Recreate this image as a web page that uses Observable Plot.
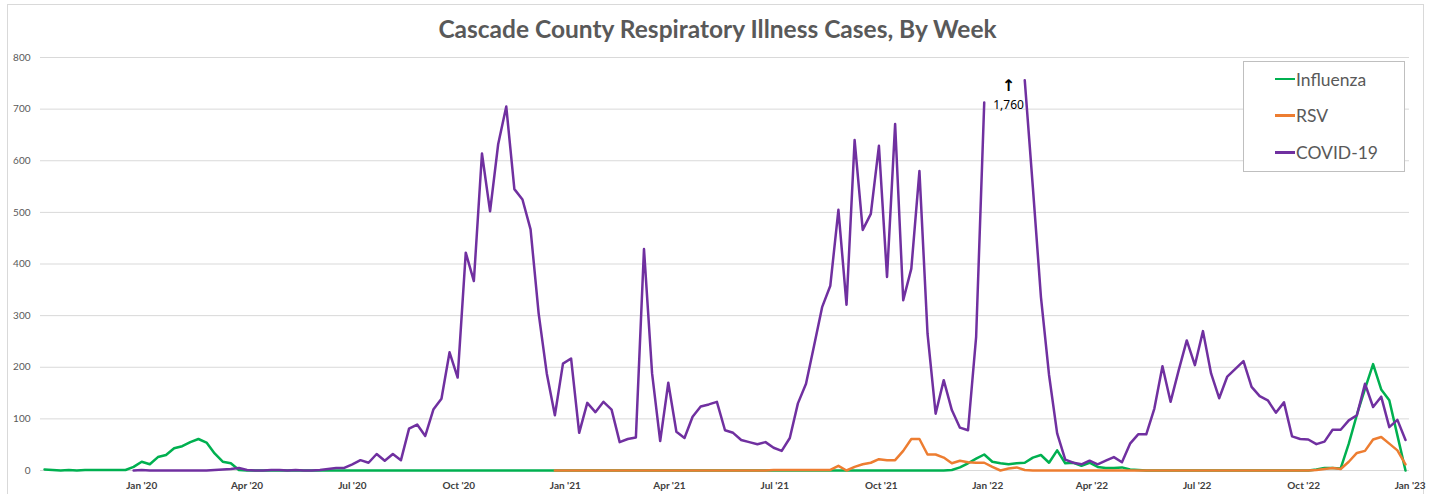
<!DOCTYPE html>
<html>
<head>
<meta charset="utf-8">
<script src="https://cdn.jsdelivr.net/npm/d3@7"></script>
<script src="https://cdn.jsdelivr.net/npm/@observablehq/plot@0.6"></script>
<style>
  html, body { margin: 0; padding: 0; background: #fff; }
  #wrap { position: relative; width: 1435px; height: 494px; overflow: hidden; font-family: Lato, "Open Sans", sans-serif; }
  #border { position: absolute; left: 7px; top: 4px; width: 1417px; height: 520px; border: 1px solid #d9d9d9; box-sizing: border-box; }
  #title { position: absolute; left: 0; top: 13px; width: 1435px; text-align: center; font-size: 24.5px; font-weight: bold; color: #595959; line-height: 32px; }
  #chart { position: absolute; left: 0; top: 0; }
  #legend { position: absolute; left: 1243px; top: 61px; width: 162px; height: 111px; border: 1px solid #bfbfbf; box-sizing: border-box; background: #fff; }
  .item { position: absolute; left: 31px; height: 20px; display: flex; align-items: center; font-size: 17.5px; color: #595959; }
  .sw { width: 20px; height: 2.5px; margin-right: 1px; }
  svg g[aria-label="x-axis tick label"] text { font-weight: bold; }
</style>
</head>
<body>
<div id="wrap">
  <div id="border"></div>
  <div id="chart"></div>
  <div id="title"></div>
  <div id="legend"></div>
</div>
<script>
// ---- data (weekly counts, first week = 2019-10-09) ----
const chartTitle = "Cascade County Respiratory Illness Cases, By Week";
const firstWeek = "2019-10-09";
const seriesNames = ["Influenza", "RSV", "COVID-19"];
const seriesColors = ["#00b050", "#ed7d31", "#7030a0"];

const influenza = [
  2,1,0,1,0,1,1,1,1,1,
  1,7,17,12,26,30,43,47,55,61,
  54,33,17,14,1,0,0,0,0,0,
  0,0,0,0,0,0,0,0,0,0,
  0,0,0,0,0,0,0,0,0,0,
  0,0,0,0,0,0,0,0,0,0,
  0,0,0,0,0,0,0,0,0,0,
  0,0,0,0,0,0,0,0,0,0,
  0,0,0,0,0,0,0,0,0,0,
  0,0,0,0,0,0,0,0,0,0,
  0,0,0,0,0,0,0,0,0,0,
  0,0,1,6,14,23,31,17,14,12,
  14,15,25,30,15,39,14,15,9,15,
  7,5,5,6,2,1,0,0,0,0,
  0,0,0,0,0,0,0,0,0,0,
  0,0,0,0,0,0,0,2,5,5,
  4,52,108,158,206,157,136,68,0
];

const rsv = [
  null,null,null,null,null,null,null,null,null,null,
  null,null,null,null,null,null,null,null,null,null,
  null,null,null,null,null,null,null,null,null,null,
  null,null,null,null,null,null,null,null,null,null,
  null,null,null,null,null,null,null,null,null,null,
  null,null,null,null,null,null,null,null,null,null,
  null,null,null,0,0,0,0,0,0,0,
  0,0,0,0,0,0,0,0,0,0,
  0,0,0,0,0,0,0,0,0,0,
  1,1,1,1,1,1,1,1,9,0,
  7,12,15,22,20,20,38,61,61,31,
  31,25,14,19,16,15,15,7,0,4,
  6,1,0,0,0,0,0,0,0,0,
  0,0,0,0,0,0,0,0,0,0,
  0,0,0,0,0,0,0,0,0,0,
  0,0,0,0,0,0,0,1,3,5,
  3,17,34,38,60,65,52,39,12
];

const covid = [
  null,null,null,null,null,null,null,null,null,null,
  null,0,1,0,0,0,0,0,0,0,
  0,1,2,3,5,1,0,0,1,1,
  0,1,0,0,1,3,5,5,12,20,
  15,32,19,32,20,81,89,67,118,139,
  229,180,422,367,614,502,632,705,545,525,
  467,304,188,107,207,217,73,131,113,133,
  118,55,61,64,429,188,57,170,75,63,
  104,124,128,133,78,73,59,55,51,55,
  44,38,63,130,168,242,317,358,505,321,
  640,466,497,629,375,671,330,391,580,265,
  110,175,117,83,78,259,713,null,null,null,
  null,756,549,336,185,72,21,15,12,19,
  12,19,26,16,52,70,70,120,202,133,
  194,252,204,270,188,140,182,197,212,162,
  144,136,112,132,66,61,60,51,56,79,
  79,97,107,168,123,143,84,98,59
];

// weeks beyond the axis maximum (shown as a gap with a note)
const offScaleNote = { weekIndex: 119, value: 1760 };

const yTicks = [0, 100, 200, 300, 400, 500, 600, 700, 800];
const xTickDates = ["2020-01-01","2020-04-01","2020-07-01","2020-10-01",
  "2021-01-01","2021-04-01","2021-07-01","2021-10-01",
  "2022-01-01","2022-04-01","2022-07-01","2022-10-01","2023-01-01"];

// ---- build ----
const start = new Date(firstWeek + "T00:00:00Z");
const weeks = influenza.map((_, i) => d3.utcDay.offset(start, 7 * i));
const allSeries = [influenza, rsv, covid];
const rows = [];
allSeries.forEach((arr, s) => arr.forEach((v, i) => rows.push({ date: weeks[i], value: v, series: seriesNames[s] })));

const domainEnd = new Date("2023-01-01T00:00:00Z");
const pxPerDay = (1405 - 44) / ((weeks[weeks.length - 1] - start) / 864e5);
const rangeEnd = 44 + pxPerDay * ((domainEnd - start) / 864e5);

const chart = Plot.plot({
  width: 1435,
  height: 494,
  marginLeft: 40,
  marginRight: 26,
  marginTop: 57,
  marginBottom: 24,
  style: { fontFamily: "Lato, 'Open Sans', sans-serif", background: "transparent", overflow: "visible" },
  x: { type: "utc", domain: [start, domainEnd], range: [44, rangeEnd] },
  y: { domain: [0, 800] },
  color: { domain: seriesNames, range: seriesColors },
  marks: [
    Plot.gridY(yTicks, { stroke: "#d9d9d9", strokeOpacity: 1, strokeWidth: 1 }),
    Plot.axisY(yTicks, { tickSize: 0, tickPadding: 10, fontSize: 10, color: "#595959", label: null }),
    Plot.axisX(xTickDates.map(d => new Date(d + "T00:00:00Z")), {
      tickSize: 0, tickPadding: 11, fontSize: 10, color: "#404040", label: null,
      tickFormat: d3.utcFormat("%b '%y")
    }),
    Plot.line(rows, { x: "date", y: "value", z: "series", stroke: "series", strokeWidth: 2.5, strokeLinejoin: "round" }),
    Plot.text([offScaleNote], { x: d => weeks[d.weekIndex], y: () => 800, text: () => "↑", dy: 28, fontSize: 16, fontWeight: "bold", fill: "black", fontFamily: "DejaVu Sans" }),
    Plot.text([offScaleNote], { x: d => weeks[d.weekIndex], y: () => 800, text: d => d3.format(",")(d.value), dy: 48, fontSize: 12, fill: "black", fontFamily: "'Noto Sans', sans-serif" })
  ]
});
document.getElementById("chart").appendChild(chart);
document.getElementById("title").textContent = chartTitle;

const legend = document.getElementById("legend");
seriesNames.forEach((name, i) => {
  const item = document.createElement("div");
  item.className = "item";
  item.style.top = (7 + i * 36.7) + "px";
  const sw = document.createElement("span");
  sw.className = "sw";
  sw.style.background = seriesColors[i];
  const tx = document.createElement("span");
  tx.textContent = name;
  item.appendChild(sw);
  item.appendChild(tx);
  legend.appendChild(item);
});
</script>
</body>
</html>
